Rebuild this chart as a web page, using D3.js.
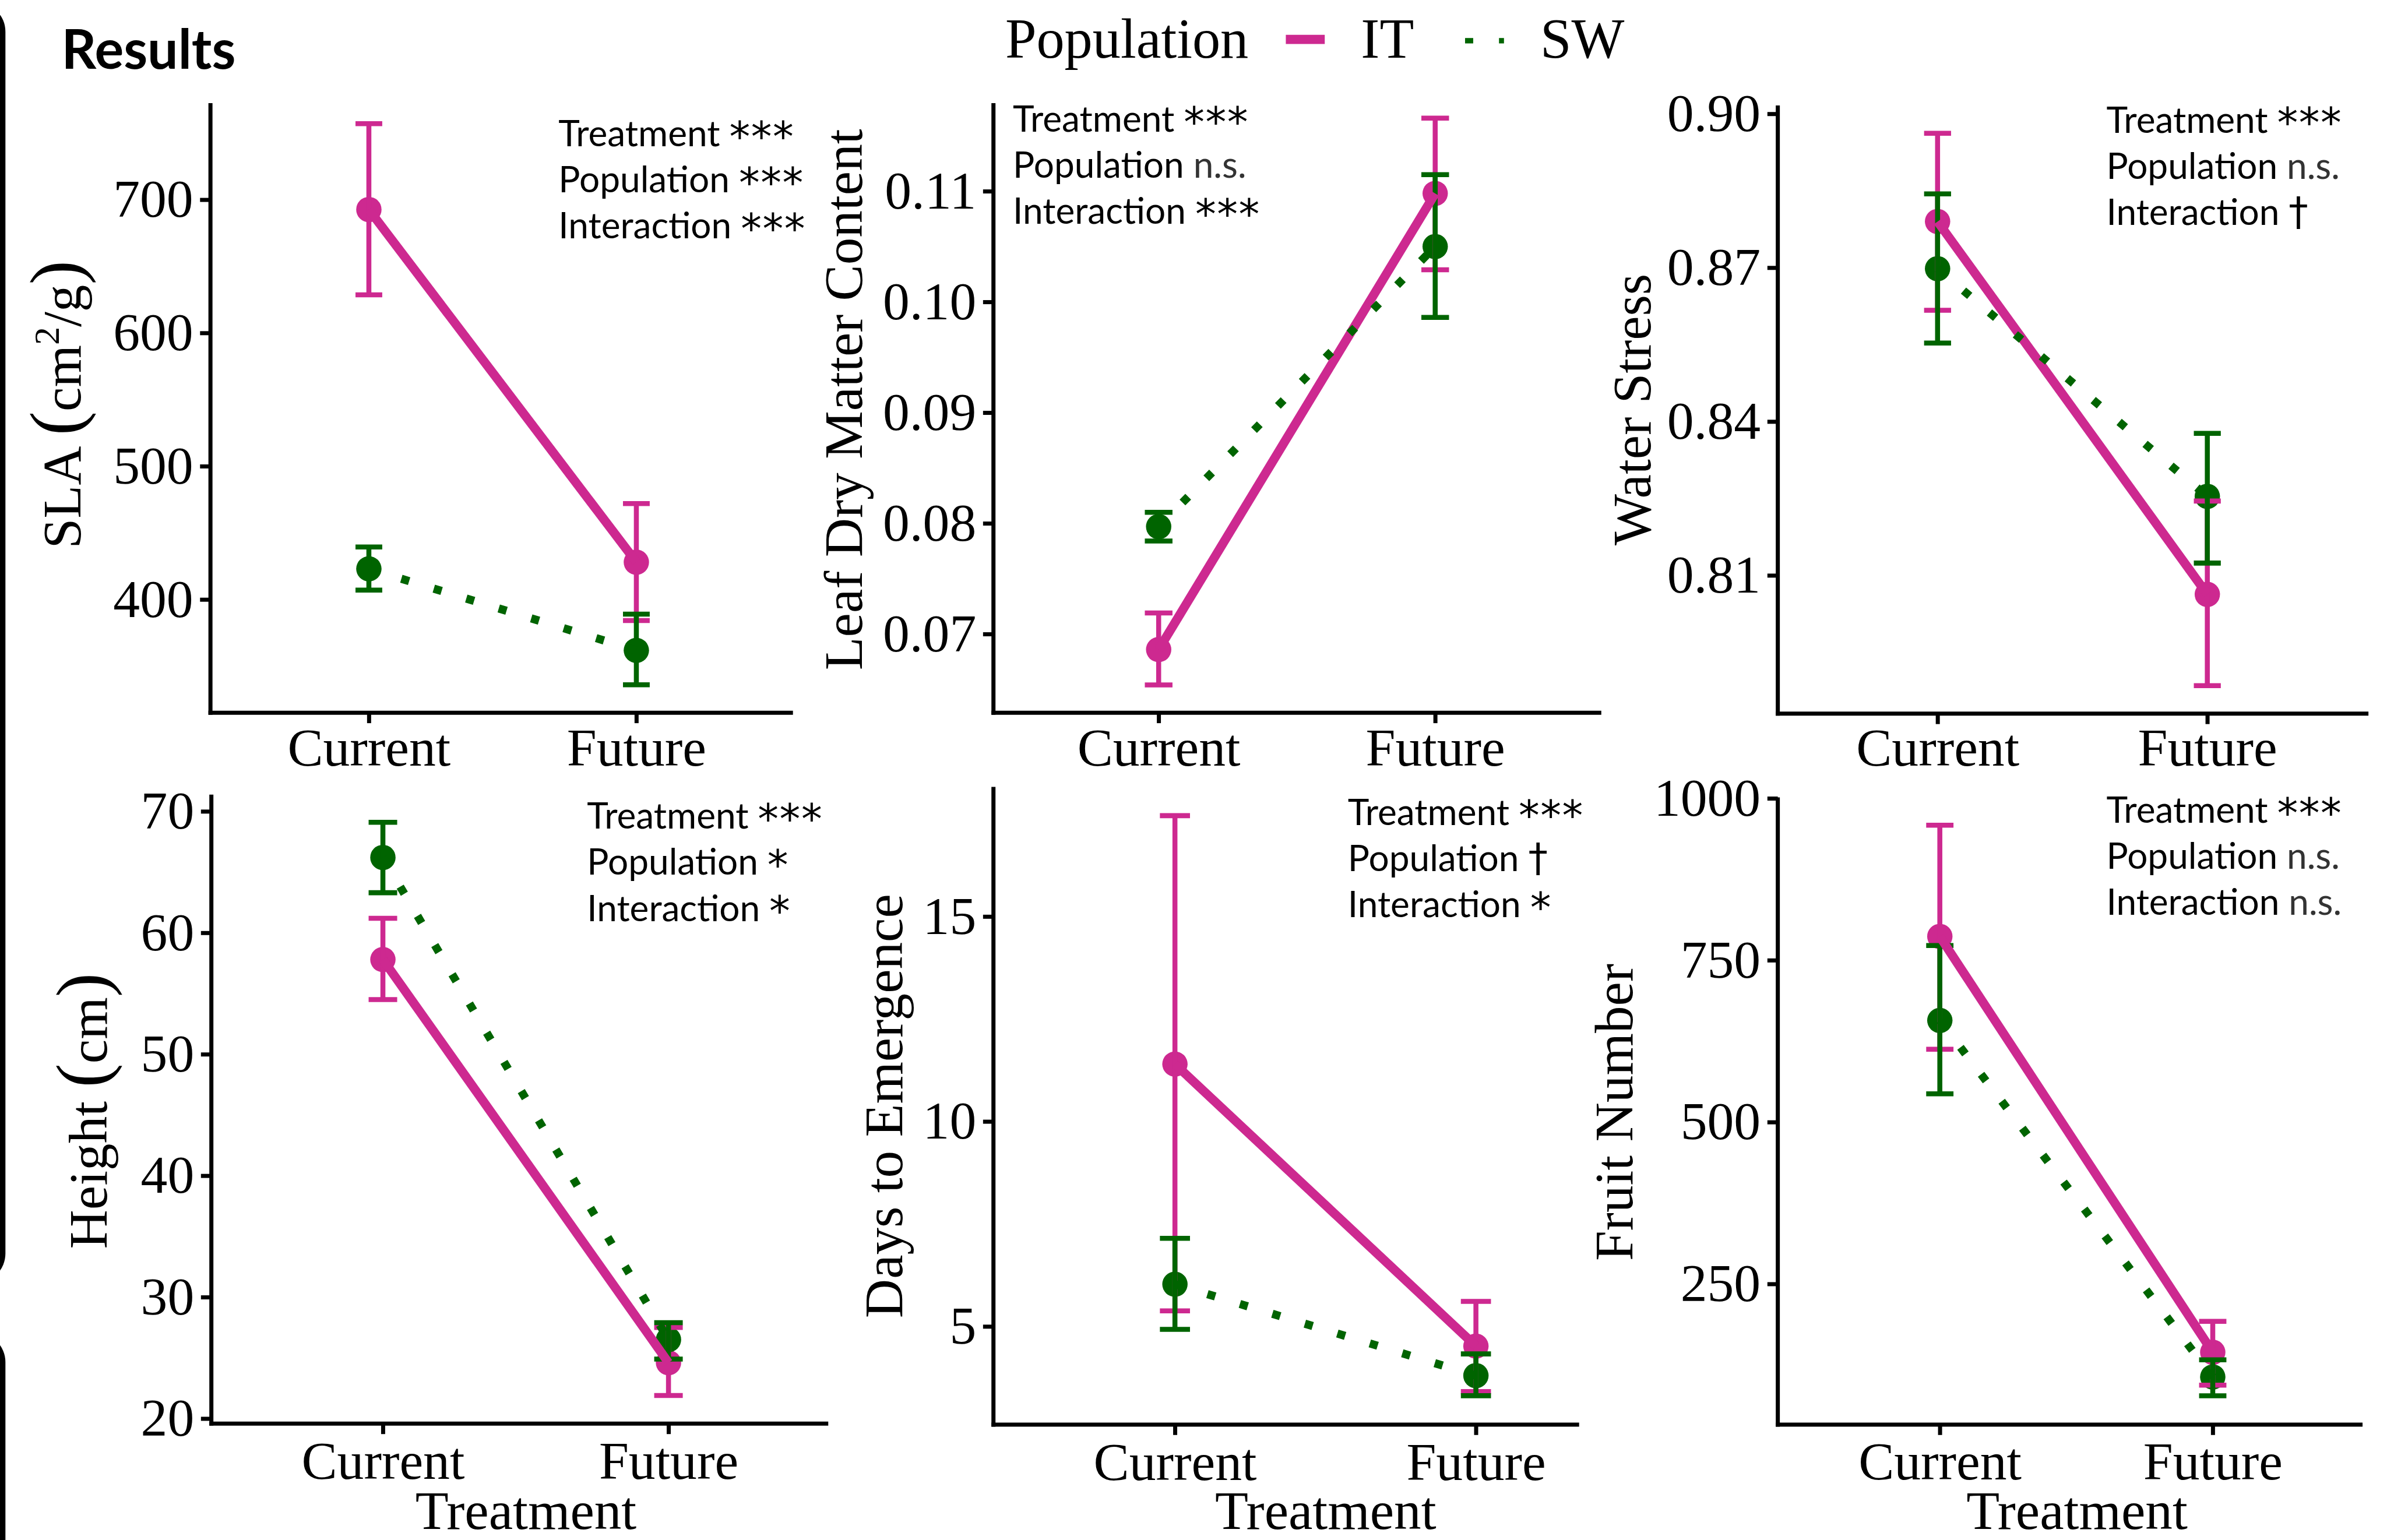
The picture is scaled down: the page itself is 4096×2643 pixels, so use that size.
<!DOCTYPE html>
<html>
<head>
<meta charset="utf-8">
<script src="https://cdn.jsdelivr.net/npm/d3@7"></script>
<style>
  html, body { margin: 0; padding: 0; background: #fff; }
  svg { display: block; }
</style>
</head>
<body>
<svg id="chart"></svg>
<script>
// Six trait panels, IT vs SW population, Current vs Future treatment

const cats = ["Current", "Future"];
const pops = ["IT", "SW"];

// SLA
const slaIT = [692.6, 428.0], slaITLo = [628.6, 384.2], slaITHi = [757.0, 472.0];
const slaSW = [423.0, 361.8], slaSWLo = [407.0, 336.0], slaSWHi = [439.4, 389.0];
// Leaf dry matter content
const ldmcIT = [0.0686, 0.1098], ldmcITLo = [0.0654, 0.1029], ldmcITHi = [0.0719, 0.1166];
const ldmcSW = [0.0797, 0.1050], ldmcSWLo = [0.0784, 0.0986], ldmcSWHi = [0.0810, 0.1115];
// Water stress
const wsIT = [0.8790, 0.8063], wsITLo = [0.8617, 0.7885], wsITHi = [0.8962, 0.8245];
const wsSW = [0.8698, 0.8254], wsSWLo = [0.8553, 0.8124], wsSWHi = [0.8844, 0.8377];
// Height
const htIT = [57.8, 24.6], htITLo = [54.5, 21.9], htITHi = [61.2, 27.5];
const htSW = [66.2, 26.5], htSWLo = [63.3, 24.9], htSWHi = [69.1, 27.9];
// Days to emergence
const deIT = [11.40, 4.52], deITLo = [5.38, 3.41], deITHi = [17.46, 5.61];
const deSW = [6.03, 3.80], deSWLo = [4.93, 3.31], deSWHi = [7.15, 4.33];
// Fruit number
const fnIT = [786.7, 144.5], fnITLo = [612.5, 93.7], fnITHi = [958.6, 192.2];
const fnSW = [657.0, 106.3], fnSWLo = [543.7, 77.3], fnSWHi = [772.6, 132.8];

// tick labels
const slaTicks = [400, 500, 600, 700];
const ldmcTicks = [0.07, 0.08, 0.09, 0.10, 0.11];
const wsTicks = [0.81, 0.84, 0.87, 0.90];
const htTicks = [20, 30, 40, 50, 60, 70];
const deTicks = [5, 10, 15];
const fnTicks = [250, 500, 750, 1000];

// significance notes
const slaNotes = ["Treatment ***", "Population ***", "Interaction ***"];
const ldmcNotes = ["Treatment ***", "Population n.s.", "Interaction ***"];
const wsNotes = ["Treatment ***", "Population n.s.", "Interaction \u2020"];
const htNotes = ["Treatment ***", "Population *", "Interaction *"];
const deNotes = ["Treatment ***", "Population \u2020", "Interaction *"];
const fnNotes = ["Treatment ***", "Population n.s.", "Interaction n.s."];

const colors = { IT: "#CD2990", SW: "#006400" };
const serif = "'Liberation Serif', 'Times New Roman', serif";
const sans = "Lato, 'Open Sans', sans-serif";

function series(mean, lo, hi, pop) {
  return { pop, pts: cats.map((c, i) => ({ cat: c, v: mean[i], lo: lo[i], hi: hi[i] })) };
}

// layout in reference pixels (viewBox does the 0.776 scaling)
const panels = [
  { key: "sla", ticks: slaTicks, notes: slaNotes, fmt: "d",
    data: [series(slaIT, slaITLo, slaITHi, "IT"), series(slaSW, slaSWLo, slaSWHi, "SW")],
    ax: 465, xEnd: 1752, top: 228, bottom: 1575, cx: [815, 1406], dom: [315, 772.4],
    labX: 178, labY: 894, noteX: 1234, noteY: 323, tickBase: 1692, label: "SLA" },
  { key: "ldmc", ticks: ldmcTicks, notes: ldmcNotes, fmt: ".2f",
    data: [series(ldmcIT, ldmcITLo, ldmcITHi, "IT"), series(ldmcSW, ldmcSWLo, ldmcSWHi, "SW")],
    ax: 2195, xEnd: 3538, top: 228, bottom: 1575, cx: [2560, 3171], dom: [0.06289, 0.11795],
    labX: 1905, labY: 883, noteX: 2238, noteY: 291, tickBase: 1692, label: "Leaf Dry Matter Content" },
  { key: "ws", ticks: wsTicks, notes: wsNotes, fmt: ".2f",
    data: [series(wsIT, wsITLo, wsITHi, "IT"), series(wsSW, wsSWLo, wsSWHi, "SW")],
    ax: 3928, xEnd: 5233, top: 233, bottom: 1577, cx: [4281, 4877], dom: [0.78304, 0.90163],
    labX: 3647, labY: 905, noteX: 4654, noteY: 293, tickBase: 1692, label: "Water Stress" },
  { key: "ht", ticks: htTicks, notes: htNotes, fmt: "d",
    data: [series(htIT, htITLo, htITHi, "IT"), series(htSW, htSWLo, htSWHi, "SW")],
    ax: 467, xEnd: 1830, top: 1756, bottom: 3146, cx: [846, 1477], dom: [19.58, 71.375],
    labX: 235, labY: 2455, noteX: 1297, noteY: 1831, tickBase: 3268, xTitle: 1162, label: "Height" },
  { key: "de", ticks: deTicks, notes: deNotes, fmt: "d",
    data: [series(deIT, deITLo, deITHi, "IT"), series(deSW, deSWLo, deSWHi, "SW")],
    ax: 2195, xEnd: 3489, top: 1739, bottom: 3148, cx: [2596, 3261], dom: [2.606, 18.16],
    labX: 1993, labY: 2444, noteX: 2978, noteY: 1823, tickBase: 3270, xTitle: 2929, label: "Days to Emergence" },
  { key: "fn", ticks: fnTicks, notes: fnNotes, fmt: "d",
    data: [series(fnIT, fnITLo, fnITHi, "IT"), series(fnSW, fnSWLo, fnSWHi, "SW")],
    ax: 3928, xEnd: 5220, top: 1762, bottom: 3148, cx: [4286, 4889], dom: [32.8, 1001.5],
    labX: 3607, labY: 2458, noteX: 4654, noteY: 1818, tickBase: 3269, xTitle: 4589, label: "Fruit Number" }
];

const svg = d3.select("#chart")
  .attr("width", 4096)
  .attr("height", 2643)
  .attr("viewBox", "0 0 5274 3403");

svg.append("rect").attr("width", 5274).attr("height", 3403).attr("fill", "#fff");

// slide frame pieces on the left edge
svg.append("rect").attr("x", -200).attr("y", 5).attr("width", 212).attr("height", 2830)
  .attr("rx", 65).attr("fill", "#000");
svg.append("rect").attr("x", -200).attr("y", 2945).attr("width", 212).attr("height", 700)
  .attr("rx", 65).attr("fill", "#000");

svg.append("text")
  .attr("x", 136).attr("y", 152)
  .attr("font-family", sans).attr("font-weight", 700).attr("font-size", 120)
  .text("Results");

// legend
const leg = svg.append("g");
leg.append("text").attr("x", 2221).attr("y", 128)
  .attr("font-family", serif).attr("font-size", 124).text("Population");
leg.append("line").attr("x1", 2841).attr("x2", 2927).attr("y1", 87).attr("y2", 87)
  .attr("stroke", colors.IT).attr("stroke-width", 20);
leg.append("text").attr("x", 3007).attr("y", 128)
  .attr("font-family", serif).attr("font-size", 124).text("IT");
leg.append("line").attr("x1", 3237).attr("x2", 3323).attr("y1", 90).attr("y2", 90)
  .attr("stroke", colors.SW).attr("stroke-width", 12).attr("stroke-dasharray", "18 57");
leg.append("text").attr("x", 3403).attr("y", 128)
  .attr("font-family", serif).attr("font-size", 124).text("SW");

function drawYLabel(g, p) {
  const t = g.append("text")
    .attr("transform", `translate(${p.labX},${p.labY}) rotate(-90)`)
    .attr("text-anchor", "middle")
    .attr("font-family", serif)
    .attr("font-size", 120);
  if (p.key === "sla") {
    t.append("tspan").text("SLA ");
    t.append("tspan").attr("font-size", 160).text("(");
    t.append("tspan").text("cm");
    t.append("tspan").attr("font-size", 80).attr("dy", -48).text("2");
    t.append("tspan").attr("dy", 48).text("/g");
    t.append("tspan").attr("font-size", 160).text(")");
  } else if (p.key === "ht") {
    t.append("tspan").text("Height ");
    t.append("tspan").attr("font-size", 160).text("(");
    t.append("tspan").text("cm");
    t.append("tspan").attr("font-size", 160).text(")");
  } else {
    t.text(p.label);
  }
}

panels.forEach(p => {
  const g = svg.append("g");

  const x = d3.scalePoint().domain(cats).range(p.cx);
  const y = d3.scaleLinear().domain(p.dom).range([p.bottom, p.top]);
  const capHalf = 0.05 * (p.cx[1] - p.cx[0]);

  // y axis
  const yAxis = g.append("g")
    .attr("transform", `translate(${p.ax},0)`)
    .call(d3.axisLeft(y).tickValues(p.ticks).tickFormat(d3.format(p.fmt))
      .tickSize(23).tickPadding(15).tickSizeOuter(0));
  yAxis.select(".domain").remove();
  yAxis.selectAll(".tick line").attr("stroke", "#000").attr("stroke-width", 9);
  yAxis.selectAll(".tick text")
    .attr("font-family", serif).attr("font-size", 118).attr("fill", "#000");

  // x axis
  const xAxis = g.append("g")
    .attr("transform", `translate(0,${p.bottom})`)
    .call(d3.axisBottom(x).tickSize(23).tickSizeOuter(0));
  xAxis.select(".domain").remove();
  xAxis.selectAll(".tick line").attr("stroke", "#000").attr("stroke-width", 9);
  xAxis.selectAll(".tick text")
    .attr("font-family", serif).attr("font-size", 118).attr("fill", "#000")
    .attr("y", p.tickBase - p.bottom).attr("dy", 0);

  g.append("line").attr("x1", p.ax).attr("x2", p.ax).attr("y1", p.top).attr("y2", p.bottom + 4.5)
    .attr("stroke", "#000").attr("stroke-width", 9);
  g.append("line").attr("x1", p.ax - 4.5).attr("x2", p.xEnd).attr("y1", p.bottom).attr("y2", p.bottom)
    .attr("stroke", "#000").attr("stroke-width", 9);

  drawYLabel(g, p);

  if (p.xTitle) {
    g.append("text").attr("x", p.xTitle).attr("y", 3378)
      .attr("text-anchor", "middle").attr("font-family", serif).attr("font-size", 120)
      .text("Treatment");
  }

  // points
  p.data.forEach(s => {
    g.selectAll(null).data(s.pts).enter().append("circle")
      .attr("cx", d => x(d.cat)).attr("cy", d => y(d.v)).attr("r", 28)
      .attr("fill", colors[s.pop]);
  });

  // error bars
  p.data.forEach(s => {
    const eb = g.selectAll(null).data(s.pts).enter().append("g")
      .attr("stroke", colors[s.pop]).attr("stroke-width", 11);
    eb.append("line")
      .attr("x1", d => x(d.cat)).attr("x2", d => x(d.cat))
      .attr("y1", d => y(d.lo)).attr("y2", d => y(d.hi));
    eb.append("line")
      .attr("x1", d => x(d.cat) - capHalf).attr("x2", d => x(d.cat) + capHalf)
      .attr("y1", d => y(d.hi)).attr("y2", d => y(d.hi));
    eb.append("line")
      .attr("x1", d => x(d.cat) - capHalf).attr("x2", d => x(d.cat) + capHalf)
      .attr("y1", d => y(d.lo)).attr("y2", d => y(d.lo));
  });

  // lines
  const line = d3.line().x(d => x(d.cat)).y(d => y(d.v));
  p.data.forEach(s => {
    g.append("path").datum(s.pts)
      .attr("d", line)
      .attr("fill", "none")
      .attr("stroke", colors[s.pop])
      .attr("stroke-width", s.pop === "IT" ? 20 : 18)
      .attr("stroke-dasharray", s.pop === "IT" ? null : "18 57");
  });

  // notes: word in Lato, significance mark styled apart
  p.notes.forEach((n, i) => {
    const t = g.append("text")
      .attr("x", p.noteX).attr("y", p.noteY + i * 102)
      .attr("font-family", sans).attr("font-size", 80).attr("fill", "#000");
    const sp = n.indexOf(" ");
    const word = n.slice(0, sp + 1), mark = n.slice(sp + 1);
    t.append("tspan").text(word);
    if (mark === "n.s.") {
      t.append("tspan").attr("fill", "#333").text(mark);
    } else if (mark === "\u2020") {
      t.append("tspan").attr("font-family", "'DejaVu Sans', sans-serif")
        .attr("font-size", 86).text(mark);
    } else {
      t.append("tspan").attr("font-family", "'DejaVu Sans', sans-serif")
        .attr("font-size", 92).attr("dy", 10).attr("letter-spacing", 2).text(mark);
    }
  });
});
</script>
</body>
</html>
